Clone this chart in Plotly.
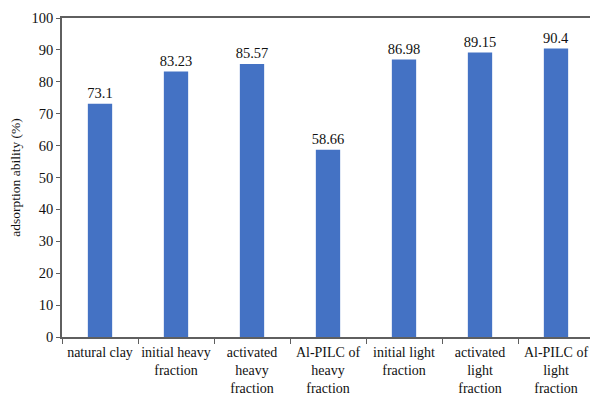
import plotly.graph_objects as go

# Adsorption ability of each clay sample (%)
categories = [
    "natural clay",
    "initial heavy<br>fraction",
    "activated<br>heavy<br>fraction",
    "Al-PILC of<br>heavy<br>fraction",
    "initial light<br>fraction",
    "activated<br>light<br>fraction",
    "Al-PILC of<br>light<br>fraction",
]
values = [73.1, 83.23, 85.57, 58.66, 86.98, 89.15, 90.4]
value_labels = ["73.1", "83.23", "85.57", "58.66", "86.98", "89.15", "90.4"]

y_ticks = list(range(0, 101, 10))

serif = "'Liberation Serif', 'Times New Roman', serif"
axis_color = "#5f5f5f"
text_color = "#111111"

fig = go.Figure(
    go.Bar(
        x=categories,
        y=values,
        text=value_labels,
        textposition="outside",
        constraintext="none",
        textfont=dict(family=serif, size=14.5, color=text_color),
        cliponaxis=False,
        marker=dict(color="#4472C4", line=dict(width=0)),
        width=0.32,
    )
)

fig.update_layout(
    width=590,
    height=396,
    margin=dict(l=62, r=0, t=18, b=59),
    paper_bgcolor="white",
    plot_bgcolor="white",
    showlegend=False,
    font=dict(family=serif, size=14.5, color=text_color),
)

fig.update_xaxes(
    range=[-0.5, -0.5 + 528 / 76],
    automargin=False,
    tickangle=0,
    showline=True,
    linecolor=axis_color,
    linewidth=1.5,
    mirror=True,
    ticks="outside",
    tickson="boundaries",
    ticklen=5,
    tickcolor=axis_color,
    ticklabelstandoff=1,
    tickfont=dict(family=serif, size=14, color=text_color),
    showgrid=False,
)

fig.update_yaxes(
    range=[0, 100],
    automargin=False,
    tickvals=y_ticks,
    ticks="outside",
    ticklen=4,
    tickcolor=axis_color,
    showline=True,
    linecolor=axis_color,
    linewidth=1.5,
    showgrid=False,
    zeroline=False,
    tickfont=dict(family=serif, size=14.5, color=text_color),
    title=dict(text="adsorption ability (%)", font=dict(family=serif, size=13.5, color=text_color), standoff=8),
)

fig.write_html("out.html")
